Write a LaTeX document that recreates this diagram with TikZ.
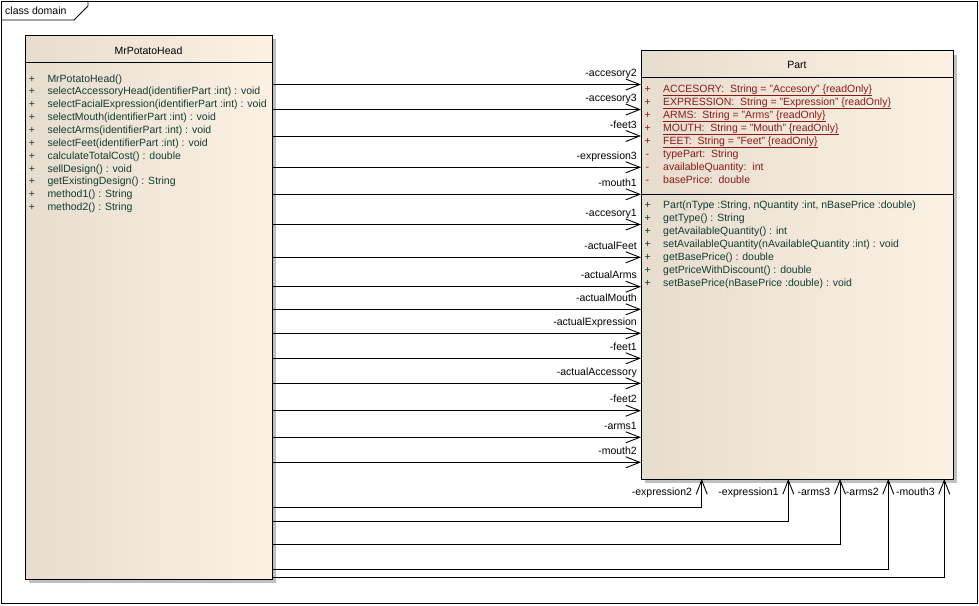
\documentclass[tikz,border=0pt]{standalone}
\usepackage{fontspec}
\setmainfont{Liberation Sans}
\usetikzlibrary{arrows.meta,shadows}
\definecolor{optext}{HTML}{143C32}
\definecolor{attrtext}{HTML}{8C1A1A}
\definecolor{boxl}{HTML}{E6DDCE}
\definecolor{boxr}{HTML}{FCF2E4}
\begin{document}
\begin{tikzpicture}[x=1pt,y=-1pt,
  txt/.style={font=\fontsize{10.5}{12}\selectfont, inner sep=0pt, anchor=base west},
  optxt/.style={txt, text=optext},
  attxt/.style={txt, text=attrtext},
  lbl/.style={font=\fontsize{10.5}{12}\selectfont, inner sep=0pt, anchor=base east},
  ttl/.style={font=\fontsize{10.5}{12}\selectfont, inner sep=0pt, anchor=base},
  classbox/.style={draw=black, line width=1pt, inner sep=0pt, outer sep=0pt,
    left color=boxl, right color=boxr,
    drop shadow={shadow xshift=4pt, shadow yshift=-4pt, fill=black!25, opacity=1}},
  assoc/.style={draw=black, line width=0.9pt, -{Straight Barb[length=14pt,width=11pt]}}
]
\useasboundingbox (0,0) rectangle (979,605);
% frame
\draw[line width=0.8pt] (1,1) rectangle (977,603);
\draw[line width=0.8pt] (1,20) -- (74,20) -- (88,6) -- (88,1);
\node[txt] (framelbl) at (5,14.8) {class domain};

% classes
\node[classbox, minimum width=247pt, minimum height=544pt] (mph) at (148.5,307) {};
\node[classbox, minimum width=312pt, minimum height=428.3pt] (part) at (797,264.85) {};

% MrPotatoHead
\node[ttl] (mphtitle) at (148.5,54.5) {MrPotatoHead};
\coordinate (mphsep) at (0,62.3);
\draw[line width=1pt] (mph.west |- mphsep) -- (mph.east |- mphsep);
\foreach \t [count=\i] in {{MrPotatoHead()},
  {selectAccessoryHead(identifierPart :int) : void},
  {selectFacialExpression(identifierPart :int) : void},
  {selectMouth(identifierPart :int) : void},
  {selectArms(identifierPart :int) : void},
  {selectFeet(identifierPart :int) : void},
  {calculateTotalCost() : double},
  {sellDesign() : void},
  {getExistingDesign() : String},
  {method1() : String},
  {method2() : String}} {
  \pgfmathsetmacro{\yy}{78.3+12.85*(\i-1)+3.8}
  \node[optxt] (mphplus\i) at (28.7,\yy) {+};
  \node[optxt] (mphop\i) at (47.3,\yy) {\t};
}

% Part
\node[ttl] (parttitle) at (797,68.8) {Part};
\coordinate (partsepa) at (0,77.3);
\coordinate (partsepb) at (0,194.5);
\draw[line width=1pt] (part.west |- partsepa) -- (part.east |- partsepa);
\draw[line width=1pt] (part.west |- partsepb) -- (part.east |- partsepb);
\foreach \t [count=\i] in {
  {ACCESORY:~~String = "Accesory" \{readOnly\}},
  {EXPRESSION:~~String = "Expression" \{readOnly\}},
  {ARMS:~~String = "Arms" \{readOnly\}},
  {MOUTH:~~String = "Mouth" \{readOnly\}},
  {FEET:~~String = "Feet" \{readOnly\}}} {
  \pgfmathsetmacro{\yy}{88.3+13*(\i-1)+3.8}
  \node[attxt] (partplus\i) at (644.5,\yy) {+};
  \node[attxt] (partattr\i) at (663,\yy) {\underline{\t}};
}
\foreach \t [count=\i] in {
  {typePart:~~String},
  {availableQuantity:~~int},
  {basePrice:~~double}} {
  \pgfmathsetmacro{\yy}{153.3+13*(\i-1)+3.8}
  \node[attxt] (partminus\i) at (645.5,\yy) {-};
  \node[attxt] (partpriv\i) at (663,\yy) {\t};
}
\foreach \t [count=\i] in {
  {Part(nType :String, nQuantity :int, nBasePrice :double)},
  {getType() : String},
  {getAvailableQuantity() : int},
  {setAvailableQuantity(nAvailableQuantity :int) : void},
  {getBasePrice() : double},
  {getPriceWithDiscount() : double},
  {setBasePrice(nBasePrice :double) : void}} {
  \pgfmathsetmacro{\yy}{204.8+13*(\i-1)+3.8}
  \node[optxt] (partopplus\i) at (644.5,\yy) {+};
  \node[optxt] (partop\i) at (663,\yy) {\t};
}

% horizontal associations
\foreach \y/\l [count=\i] in {84.5/accesory2, 109.5/accesory3, 136/feet3,
  167.3/expression3, 194.3/mouth1, 224.5/accesory1, 257.3/actualFeet,
  286.7/actualArms, 309.3/actualMouth, 333.3/actualExpression, 358.3/feet1,
  383.3/actualAccessory, 410.7/feet2, 437.3/arms1, 462.3/mouth2} {
  \coordinate (hy\i) at (0,\y);
  \draw[assoc] (mph.east |- hy\i) -- (part.west |- hy\i);
  \pgfmathsetmacro{\ly}{\y-11.7+3.8}
  \node[lbl] (hl\i) at (637,\ly) {-\l};
}

% bottom associations
\foreach \y/\x/\l [count=\i] in {507.3/701.7/expression2, 521.3/788.3/expression1,
  544.3/840/arms3, 569/888.3/arms2, 577.3/944.3/mouth3} {
  \coordinate (by\i) at (\x,\y);
  \draw[assoc] (mph.east |- by\i) -| (part.south -| by\i);
  \pgfmathsetmacro{\lx}{\x-9.5}
  \node[lbl] (bl\i) at (\lx,495.8) {-\l};
}
\end{tikzpicture}
\end{document}
